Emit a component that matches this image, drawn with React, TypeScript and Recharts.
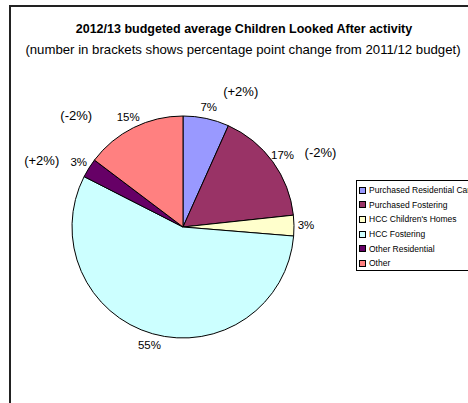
import { PieChart, Pie, Cell, Legend } from "recharts";

const categories = [
  "Purchased Residential Care",
  "Purchased Fostering",
  "HCC Children's Homes",
  "HCC Fostering",
  "Other Residential",
  "Other",
];
const shares = [6.7, 16.6, 3.0, 56.2, 2.8, 14.7];
const shareLabels = ["7%", "17%", "3%", "55%", "3%", "15%"];
const changeLabels = ["(+2%)", "(-2%)", "", "", "(+2%)", "(-2%)"];
const colors = ["#9999FF", "#993366", "#FFFFCC", "#CCFFFF", "#660066", "#FF8080"];

const data = categories.map((name, i) => ({ name, value: shares[i] }));

const FONT = '"Liberation Sans", Arial, sans-serif';
const RAD = Math.PI / 180;

// where the bracketed change sits relative to the percentage label
const changeOffset: Record<number, [number, number]> = {
  0: [32, -15],
  1: [38, -2],
  4: [-37, -1],
  5: [-52, -1],
};

function renderLabel(props: any) {
  const { cx, cy, midAngle, outerRadius, index } = props;
  const r = outerRadius + 12;
  const x = cx + r * Math.cos(-midAngle * RAD);
  const y = cy + r * Math.sin(-midAngle * RAD);
  const off = changeOffset[index];
  return (
    <g>
      <text x={x} y={y} textAnchor="middle" dominantBaseline="central" fontSize={11.5} fill="#000" fontFamily={FONT}>
        {shareLabels[index]}
      </text>
      {changeLabels[index] && off ? (
        <text
          x={x + off[0]}
          y={y + off[1]}
          textAnchor="middle"
          dominantBaseline="central"
          fontSize={13}
          fill="#000"
          fontFamily={FONT}
        >
          {changeLabels[index]}
        </text>
      ) : null}
    </g>
  );
}

function LegendBox() {
  return (
    <div
      style={{
        width: 120,
        height: 91,
        border: "1px solid #000",
        background: "#fff",
        color: "#000",
        fontFamily: FONT,
        fontSize: 8.5,
        boxSizing: "border-box",
        paddingTop: 2,
        paddingLeft: 2,
        textAlign: "left",
      }}
    >
      {categories.map((name, i) => (
        <div key={name} style={{ display: "flex", alignItems: "center", height: 14.6, whiteSpace: "nowrap" }}>
          <span
            style={{
              display: "inline-block",
              width: 5,
              height: 5,
              background: colors[i],
              border: "1px solid #000",
              marginRight: 3,
            }}
          />
          {name}
        </div>
      ))}
    </div>
  );
}

export default function App() {
  return (
    <div style={{ position: "absolute", left: 0, top: 0, width: 468, height: 403, background: "#fff", overflow: "hidden" }}>
      <div
        style={{
          position: "absolute",
          left: 9,
          top: 5,
          width: 480,
          height: 420,
          borderLeft: "2px solid #222",
          borderTop: "2px solid #222",
        }}
      />
      <div
        style={{
          position: "absolute",
          left: 0,
          width: 488,
          top: 22,
          textAlign: "center",
          fontFamily: FONT,
          fontWeight: "bold",
          fontSize: 12.5,
        }}
      >
        2012/13 budgeted average Children Looked After activity
      </div>
      <div
        style={{
          position: "absolute",
          left: 0,
          width: 486,
          top: 42,
          textAlign: "center",
          fontFamily: FONT,
          fontSize: 13.2,
          whiteSpace: "nowrap",
        }}
      >
        (number in brackets shows percentage point change from 2011/12 budget)
      </div>
      <PieChart
        width={468}
        height={403}
        margin={{ top: 0, right: 0, bottom: 0, left: 0 }}
        style={{ position: "absolute", left: 0, top: 0 }}
      >
        <Pie
          data={data}
          dataKey="value"
          nameKey="name"
          cx={183}
          cy={227}
          outerRadius={111}
          startAngle={90}
          endAngle={-270}
          stroke="#000"
          strokeWidth={1}
          label={renderLabel}
          labelLine={false}
          isAnimationActive={false}
        >
          {data.map((d, i) => (
            <Cell key={d.name} fill={colors[i]} />
          ))}
        </Pie>
        <Legend
          content={() => <LegendBox />}
          wrapperStyle={{ position: "absolute", left: 356, top: 180, width: 120 }}
        />
      </PieChart>
    </div>
  );
}
